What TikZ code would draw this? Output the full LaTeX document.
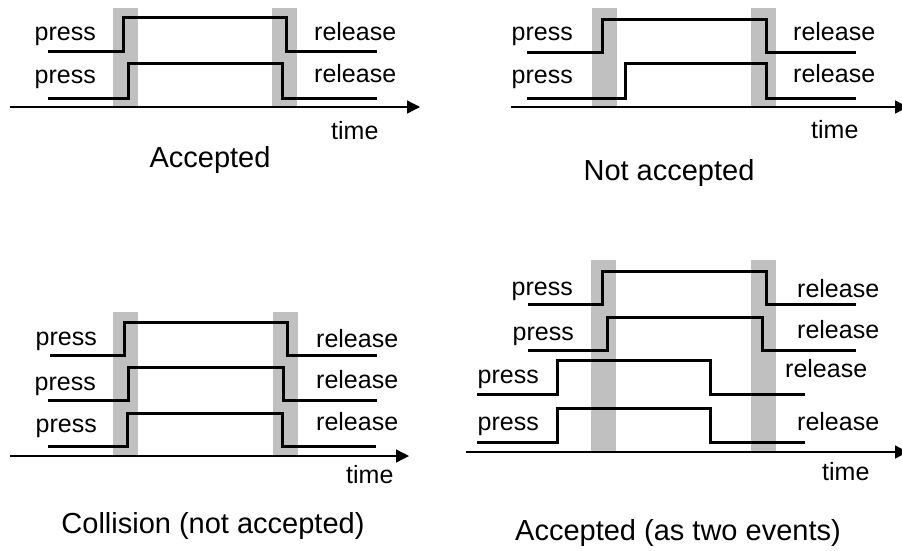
\documentclass[tikz,border=0pt]{standalone}
\usepackage{fontspec}
\setmainfont{Liberation Sans}
\usetikzlibrary{arrows.meta}
\definecolor{bandgray}{RGB}{192,192,192}
\tikzset{
  sig/.style={line width=3pt, line join=miter, line cap=butt},
  timeaxis/.style={line width=1.3pt, -{Triangle[length=13pt,width=13pt]}},
  band/.style={fill=bandgray, draw=none},
  lbl/.style={inner sep=0pt, anchor=base west, font=\fontsize{25}{30}\selectfont},
  captext/.style={inner sep=0pt, anchor=base, font=\fontsize{29}{34}\selectfont}
}
\begin{document}
\begin{tikzpicture}[x=1pt,y=-1pt]
\useasboundingbox (0,0) rectangle (902,550);
\clip (0,0) rectangle (902,550);
\fill[white] (0,0) rectangle (902,550);

% ---------- Panel 1: Accepted ----------
\fill[band] (113,8) rectangle (138,107);
\fill[band] (272,8) rectangle (297,107);
\draw[sig] (48,51) -- (123,51) -- (123,17) -- (286,17) -- (286,51) -- (377,51);
\draw[sig] (48,98) -- (128,98) -- (128,63) -- (282,63) -- (282,98) -- (377,98);
\coordinate (a1s) at (10,107);
\coordinate (a1e) at (420,107);
\draw[timeaxis] (a1s) -- (a1e);
\node[lbl] (p1a) at (34.5,40) {press};
\node[lbl] (p1b) at (34.5,83) {press};
\node[lbl] (r1a) at (314,40) {release};
\node[lbl] (r1b) at (314,82) {release};
\node[lbl] (t1) at (331,139) {time};
\node[captext] (c1) at (210,167) {Accepted};

% ---------- Panel 2: Not accepted ----------
\fill[band] (592,8) rectangle (617,107);
\fill[band] (751,8) rectangle (776,107);
\draw[sig] (527,52) -- (602,52) -- (602,19) -- (766,19) -- (766,52) -- (856,52);
\draw[sig] (527,98) -- (625,98) -- (625,63) -- (766,63) -- (766,98) -- (856,98);
\coordinate (a2s) at (511,107);
\coordinate (a2e) at (908,107);
\draw[timeaxis] (a2s) -- (a2e);
\node[lbl] (p2a) at (511.5,40) {press};
\node[lbl] (p2b) at (511.5,83) {press};
\node[lbl] (r2a) at (793,40) {release};
\node[lbl] (r2b) at (793,82) {release};
\node[lbl] (t2) at (811,138) {time};
\node[captext] (c2) at (669,180) {Not accepted};

% ---------- Panel 3: Collision ----------
\fill[band] (113,312) rectangle (138,456);
\fill[band] (273,312) rectangle (298,456);
\draw[sig] (50,355) -- (124,355) -- (124,322) -- (287,322) -- (287,355) -- (377,355);
\draw[sig] (48,400) -- (128,400) -- (128,367) -- (283,367) -- (283,400) -- (377,400);
\draw[sig] (48,446) -- (127,446) -- (127,413) -- (282,413) -- (282,446) -- (376,446);
\coordinate (a3s) at (10,456);
\coordinate (a3e) at (409,456);
\draw[timeaxis] (a3s) -- (a3e);
\node[lbl] (p3a) at (35.5,345) {press};
\node[lbl] (p3b) at (34.5,390) {press};
\node[lbl] (p3c) at (35.5,432) {press};
\node[lbl] (r3a) at (316,347) {release};
\node[lbl] (r3b) at (316,388) {release};
\node[lbl] (r3c) at (316,430) {release};
\node[lbl] (t3) at (346,483) {time};
\node[captext] (c3) at (213,533) {Collision (not accepted)};

% ---------- Panel 4: Accepted (as two events) ----------
\fill[band] (591,260) rectangle (616,453);
\fill[band] (751,260) rectangle (776,453);
\draw[sig] (528,304) -- (602,304) -- (602,271) -- (766,271) -- (766,304) -- (856,304);
\draw[sig] (528,350) -- (607,350) -- (607,317) -- (762,317) -- (762,350) -- (856,350);
\draw[sig] (477,394) -- (557,394) -- (557,360) -- (710,360) -- (710,394) -- (805,394);
\draw[sig] (477,442) -- (557,442) -- (557,408) -- (710,408) -- (710,442) -- (805,442);
\coordinate (a4s) at (466,452);
\coordinate (a4e) at (908,452);
\draw[timeaxis] (a4s) -- (a4e);
\node[lbl] (p4a) at (511.5,295) {press};
\node[lbl] (p4b) at (512.5,340) {press};
\node[lbl] (p4c) at (477.5,383) {press};
\node[lbl] (p4d) at (477.5,430) {press};
\node[lbl] (r4a) at (797,297) {release};
\node[lbl] (r4b) at (797,338) {release};
\node[lbl] (r4c) at (785,377) {release};
\node[lbl] (r4d) at (797,430) {release};
\node[lbl] (t4) at (822,480) {time};
\node[captext] (c4) at (678,540) {Accepted (as two events)};
\end{tikzpicture}
\end{document}
